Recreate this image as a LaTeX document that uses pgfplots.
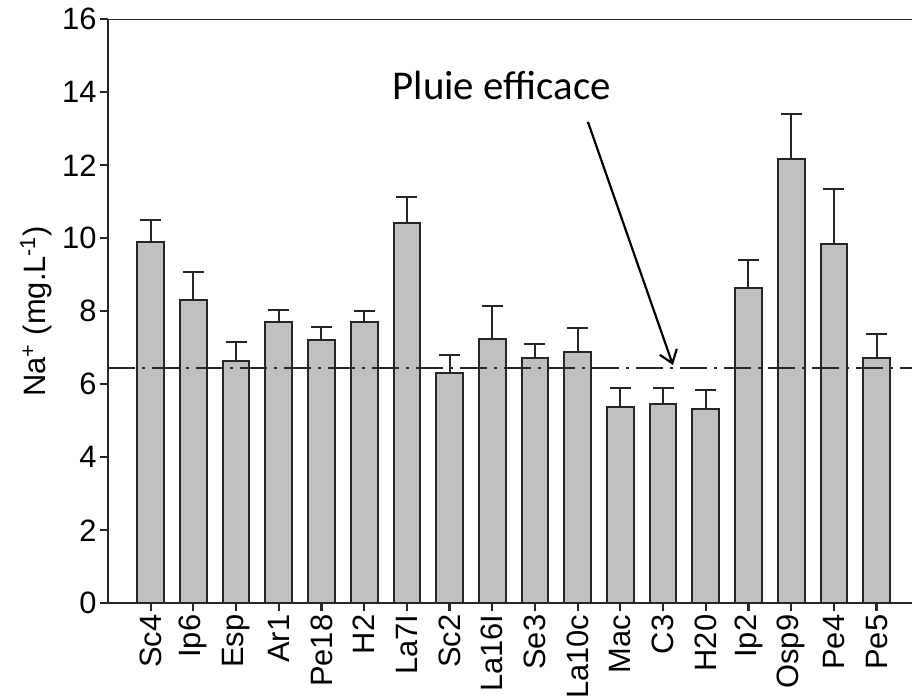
\documentclass[border=0pt]{standalone}
\usepackage{pgfplots}
\pgfplotsset{compat=1.18}
\usepackage{pgfplotstable}
\usepackage{fontspec}
\setmainfont{Liberation Sans}
\newfontfamily\carlito{Carlito}
\usetikzlibrary{arrows.meta}
\definecolor{barfill}{HTML}{C0C0C0}
\definecolor{edge}{HTML}{262626}
\pgfplotstableread{
x name val err
0 Sc4 9.89 0.61
1 Ip6 8.32 0.75
2 Esp 6.65 0.52
3 Ar1 7.72 0.31
4 Pe18 7.21 0.36
5 H2 7.70 0.31
6 La7I 10.43 0.71
7 Sc2 6.30 0.50
8 La16I 7.23 0.92
9 Se3 6.73 0.37
10 La10c 6.88 0.65
11 Mac 5.37 0.52
12 C3 5.46 0.43
13 H20 5.33 0.52
14 Ip2 8.63 0.77
15 Osp9 12.18 1.22
16 Pe4 9.84 1.50
17 Pe5 6.72 0.66
}\datatable
\begin{document}
\begin{tikzpicture}
\useasboundingbox (-54bp,-47.85bp) rectangle (402bp,301.65bp);
\begin{axis}[
  at={(0,0)}, anchor=south west,
  scale only axis, width=402bp, height=292bp,
  xmin=-1, xmax=17.83, ymin=0, ymax=16,
  axis lines=left,
  axis line style={-, edge, line width=1.1bp},
  xtick={0,...,17},
  xticklabels from table={\datatable}{name},
  ytick={0,2,...,16},
  tick align=outside, major tick length=4bp,
  tick style={edge, line width=1.1bp},
  ticklabel style={font=\fontsize{15.5}{18}\selectfont},
  /pgf/number format/assume math mode=true,
  xticklabel style={rotate=90, anchor=east, inner sep=1.5bp},
  yticklabel style={inner sep=1.5bp},
  ylabel={Na\textsuperscript{+} (mg.L\textsuperscript{-1})},
  ylabel style={font=\fontsize{15.5}{18}\selectfont, at={(rel axis cs:0,0.5)}, anchor=center, yshift=36bp},
  ybar, bar width=13.35bp,
]
\addplot[ybar, fill=barfill, draw=edge, line width=1bp,
  error bars/.cd, y dir=plus, y explicit,
  error bar style={edge, line width=1bp},
  error mark options={rotate=90, mark size=5.25bp, edge, line width=1bp}]
  table[x=x, y=val, y error=err] {\datatable};
\addplot[sharp plot, edge, line width=0.8bp, dash pattern=on 13.5bp off 3.5bp on 1.5bp off 3.5bp]
  coordinates {(-1,6.44) (17.83,6.44)};
\draw[edge, line width=1.1bp] (rel axis cs:0,1) -- (rel axis cs:1,1);
\draw[black!12, line width=0.5bp] (rel axis cs:1,0) -- (rel axis cs:1,1);
\node[font=\carlito\fontsize{20.5}{24}\selectfont, anchor=base] at (axis cs:8.22,13.8) {Pluie efficace};
\draw[-{Straight Barb[length=6bp,width=9bp]}, line width=1.1bp] (axis cs:10.24,13.19) -- (axis cs:12.23,6.53);
\end{axis}
\end{tikzpicture}
\end{document}
